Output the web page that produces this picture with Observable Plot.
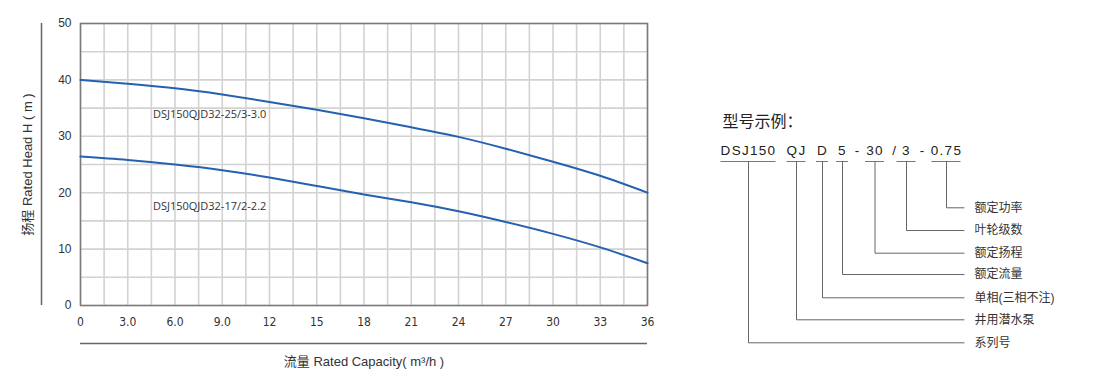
<!DOCTYPE html>
<html>
<head>
<meta charset="utf-8">
<script src="https://cdn.jsdelivr.net/npm/d3@7"></script>
<script src="https://cdn.jsdelivr.net/npm/@observablehq/plot@0.6"></script>
<style>
  html, body { margin: 0; padding: 0; background: #fff; }
  #wrap { position: relative; width: 1100px; height: 390px; overflow: hidden; }
  #chart { position: absolute; left: 0; top: 0; }
  #diagram { position: absolute; left: 680px; top: 0; }
  svg { overflow: visible; }
</style>
</head>
<body>
<div id="wrap"><div id="chart"></div><div id="diagram"></div></div>
<script>
// ---------- data ----------
const flow = [0, 3, 6, 9, 12, 15, 18, 21, 24, 27, 30, 33, 36];
const head25 = [40, 39.3, 38.5, 37.4, 36.1, 34.7, 33.2, 31.6, 29.9, 27.8, 25.5, 23.0, 20.0];
const head17 = [26.4, 25.8, 25.0, 24.0, 22.7, 21.2, 19.7, 18.3, 16.7, 14.8, 12.7, 10.3, 7.5];
const seriesNames = ["DSJ150QJD32-25/3-3.0", "DSJ150QJD32-17/2-2.2"];
const labelFlow = [4.6, 4.6];
const labelHead = [33.8, 17.6];
const xTicks = [0, 3, 6, 9, 12, 15, 18, 21, 24, 27, 30, 33, 36];
const xTickLabels = ["0", "3.0", "6.0", "9.0", "12", "15", "18", "21", "24", "27", "30", "33", "36"];
const xGridStep = 1.5;
const yTicks = [0, 10, 20, 30, 40, 50];
const yGridStep = 5;
const xTitle = "流量 Rated Capacity( m³/h )";
const yTitle = "扬程 Rated Head H ( m )";

const diagramTitle = "型号示例：";
const codeSegments = ["DSJ150", "QJ", "D", "5", "30", "3", "0.75"];
const codeSeparators = ["-", "/", "-"];
const segmentMeanings = ["系列号", "井用潜水泵", "单相(三相不注)", "额定流量", "额定扬程", "叶轮级数", "额定功率"];

// ---------- chart ----------
const curveRows = [];
flow.forEach((q, i) => curveRows.push({q, h: head25[i], s: seriesNames[0]}));
flow.forEach((q, i) => curveRows.push({q, h: head17[i], s: seriesNames[1]}));
const labelRows = seriesNames.map((s, i) => ({s, q: labelFlow[i], h: labelHead[i]}));
const xGrid = d3.range(0, 36 + 1e-9, xGridStep);
const yGrid = d3.range(0, 50 + 1e-9, yGridStep);

const font = '"Liberation Sans", Arial, "Noto Sans CJK SC", sans-serif';

const chart = Plot.plot({
  width: 680, height: 390,
  marginLeft: 80, marginRight: 33, marginTop: 23, marginBottom: 85,
  style: {fontFamily: font, background: "transparent"},
  x: {domain: [0, 36], axis: null},
  y: {domain: [0, 50], axis: null},
  marks: [
    Plot.ruleX(xGrid, {stroke: "#d2d2d2", strokeWidth: 1.6}),
    Plot.ruleY(yGrid, {stroke: "#d2d2d2", strokeWidth: 1.6}),
    Plot.frame({stroke: "#7a7a7a", strokeWidth: 1.5}),
    Plot.axisY(yTicks, {tickSize: 0, tickPadding: 9, fontSize: 12, fill: "#333", label: null}),
    Plot.axisX(xTicks, {tickSize: 0, tickPadding: 12, fontSize: 12, fill: "#333", label: null,
      fontFamily: '"Liberation Sans Narrow", "Arial Narrow", "DejaVu Sans Condensed", sans-serif',
      tickFormat: d => xTickLabels[xTicks.indexOf(d)]}),
    Plot.line(curveRows, {x: "q", y: "h", z: "s", stroke: "#2661b0", strokeWidth: 2, curve: "natural"}),
    Plot.text(labelRows, {x: "q", y: "h", text: "s", textAnchor: "start", fontSize: 11, fill: "#333",
      fontFamily: '"Open Sans", "Liberation Sans", sans-serif'}),
    // axis title decorations
    Plot.ruleX([0], {dx: -39, stroke: "#666", strokeWidth: 1.5}),
    Plot.ruleY([0], {dy: 38, stroke: "#666", strokeWidth: 1.5}),
    Plot.text([yTitle], {frameAnchor: "left", dx: -53, rotate: -90, textAnchor: "middle", fontSize: 13, fill: "#333"}),
    Plot.text([xTitle], {frameAnchor: "bottom", dy: 60, textAnchor: "middle", fontSize: 13, fill: "#333"})
  ]
});
document.getElementById("chart").appendChild(chart);

// ---------- model-number diagram ----------
// layout (pixels inside the diagram panel)
const L = {
  titleX: 42, titleY: 121, codeY: 150, underlineY: 161,
  segCenter: [68, 116, 142, 162, 194.5, 226, 266],
  segHalf: [27.5, 9.5, 6, 6, 9.5, 9.5, 14.5],
  sepCenter: [176.5, 213.5, 241.5],
  rowY: [342.3, 319.3, 297.3, 274, 252.7, 230, 207.3],
  rowEnd: 283.5, labelX: 294
};
const segRows = codeSegments.map((t, i) => ({t, cx: L.segCenter[i], x1: L.segCenter[i] - L.segHalf[i], x2: L.segCenter[i] + L.segHalf[i]}));
const sepRows = codeSeparators.map((t, i) => ({t, cx: L.sepCenter[i]}));
const meaningRows = segmentMeanings.map((t, i) => ({t, y: L.rowY[i]}));
const connectorPts = [];
codeSegments.forEach((t, i) => {
  connectorPts.push({seg: t, x: L.segCenter[i], y: L.underlineY});
  connectorPts.push({seg: t, x: L.segCenter[i], y: L.rowY[i]});
  connectorPts.push({seg: t, x: L.rowEnd, y: L.rowY[i]});
});

const diagram = Plot.plot({
  width: 420, height: 390, margin: 0,
  style: {fontFamily: font, background: "transparent"},
  x: {domain: [0, 420], range: [0, 420], axis: null},
  y: {domain: [0, 390], range: [0, 390], axis: null},
  marks: [
    Plot.text([diagramTitle], {x: L.titleX, y: L.titleY, textAnchor: "start", fontSize: 16, fill: "#222"}),
    Plot.text(segRows, {x: "cx", y: L.codeY, text: "t", fontSize: 13.5, fill: "#222", textAnchor: "middle"}),
    Plot.text(sepRows, {x: "cx", y: L.codeY, text: "t", fontSize: 13.5, fill: "#222", textAnchor: "middle"}),
    Plot.ruleY(segRows, {x1: "x1", x2: "x2", y: L.underlineY, stroke: "#777", strokeWidth: 1}),
    Plot.line(connectorPts, {x: "x", y: "y", z: "seg", stroke: "#666", strokeWidth: 1}),
    Plot.text(meaningRows, {x: L.labelX, y: "y", text: "t", textAnchor: "start", fontSize: 12, fill: "#333"})
  ]
});
diagram.querySelectorAll("text").forEach(n => {
  if (codeSegments.includes(n.textContent)) n.setAttribute("letter-spacing", "1.3");
});
document.getElementById("diagram").appendChild(diagram);
</script>
</body>
</html>
